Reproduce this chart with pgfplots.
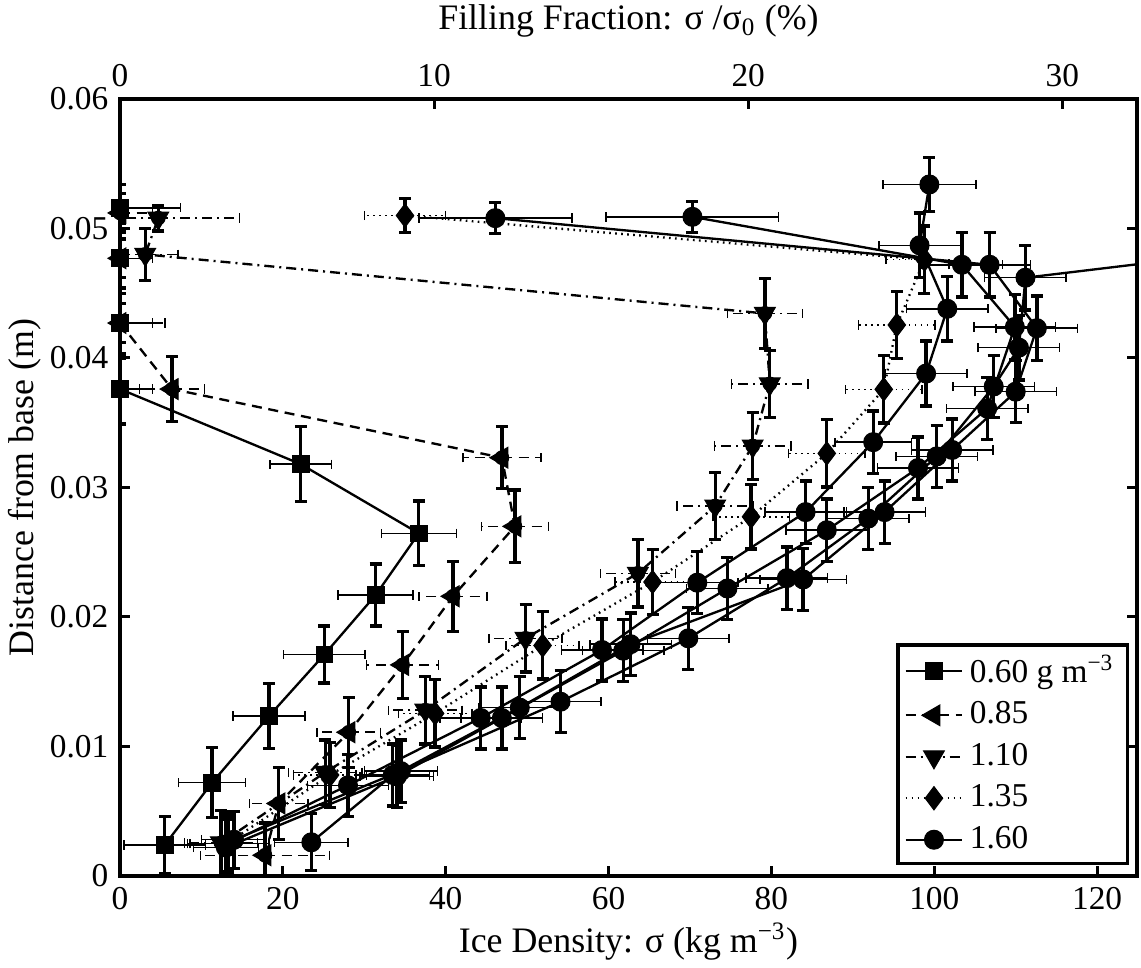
\documentclass[border=0pt]{standalone}
\usepackage{fontspec}
\setmainfont{Liberation Serif}
\usepackage{pgfplots}
\usepackage{pgfplotstable}
\pgfplotsset{compat=1.18}
\usetikzlibrary{calc}

\pgfplotstableread{
x y ex ey
5.5 0.0024 5.0 0.0022
11.3 0.0072 4.1 0.0027
18.3 0.01235 4.4 0.0025
25.1 0.0171 5.0 0.0022
31.4 0.0217 4.6 0.0024
36.7 0.02646 4.6 0.0025
22.2 0.0318 3.8 0.0029
0 0.0376 4.0 0.0027
0 0.0427 4.0 0.0027
0 0.0477 4.0 0.0027
0 0.0516 7.4 0.0018
}\tabSq

\pgfplotstableread{
x y ex ey
17.8 0.0016 7.9 0.0025
19.5 0.0056 3.6 0.0028
28.1 0.0111 3.9 0.0027
34.7 0.0163 4.4 0.0026
40.9 0.0216 4.2 0.0027
48.5 0.0270 4.1 0.0028
46.9 0.0323 4.8 0.0024
6.4 0.0376 4.0 0.0025
0 0.0427 5.5 0.0015
0 0.0477 4.0 0.0015
0 0.0512 4.0 0.0015
}\tabLt

\pgfplotstableread{
x y ex ey
12.4 0.00255 4.5 0.0025
25.2 0.0080 4.5 0.0025
37.5 0.0128 4.5 0.0026
49.8 0.01835 4.5 0.0026
63.6 0.02337 4.6 0.0026
73.1 0.02857 4.7 0.0026
77.7 0.0332 4.7 0.0026
79.8 0.0380 4.7 0.0026
79.2 0.04344 4.6 0.0027
3.1 0.0480 4.0 0.0020
4.7 0.0508 10.0 0.0010
}\tabDt

\pgfplotstableread{
x y ex ey
13.1 0.0025 4.5 0.0025
25.8 0.0078 4.5 0.0025
38.7 0.01255 4.5 0.0026
51.9 0.0178 4.5 0.0026
65.4 0.0227 4.6 0.0025
77.5 0.02774 4.7 0.0025
86.8 0.03263 4.7 0.0026
93.8 0.03758 4.7 0.0026
95.4 0.04255 4.7 0.0026
98.8 0.0476 4.7 0.0026
35.0 0.0510 5.0 0.0013
}\tabDi

\pgfplotstableread{
x y ex ey
13.3 0.0025 5.0 0.0022
28.0 0.0070 5.0 0.0024
44.3 0.0122 5.0 0.0024
59.2 0.01745 5.0 0.0024
70.9 0.02265 5.0 0.0024
84.2 0.0281 5.0 0.0024
92.5 0.0335 4.7 0.0024
99.0 0.0388 5.0 0.0025
101.6 0.0438 5.0 0.0025
98.2 0.0487 5.0 0.0025
99.4 0.0534 5.7 0.0021
}\tabCa

\pgfplotstableread{
x y ex ey
13.0 0.0022 4.0 0.0022
34.0 0.0077 4.5 0.0024
46.9 0.0122 5.0 0.0024
61.8 0.0174 5.0 0.0024
74.6 0.0222 5.0 0.0024
86.8 0.0267 5.0 0.0024
98.0 0.0315 5.0 0.0024
106.5 0.0361 5.0 0.0024
109.9 0.0424 5.0 0.0025
103.4 0.0472 5.0 0.0025
70.3 0.0509 10.6 0.0012
}\tabCb

\pgfplotstableread{
x y ex ey
14.0 0.0028 4.0 0.0022
34.5 0.0081 4.5 0.0024
49.1 0.0130 5.0 0.0024
62.7 0.0179 5.0 0.0024
83.9 0.0229 5.3 0.0024
93.9 0.0281 5.0 0.0024
102.2 0.0329 5.0 0.0024
110.0 0.0374 5.0 0.0024
112.6 0.0423 5.0 0.0025
106.8 0.0472 5.0 0.0025
46.1 0.0508 9.4 0.0012
}\tabCc

\pgfplotstableread{
x y ex ey
23.5 0.0026 4.5 0.0022
33.5 0.0078 4.5 0.0024
54.1 0.01346 5.0 0.0024
69.8 0.01835 5.0 0.0024
81.9 0.0230 5.0 0.0024
91.9 0.0276 5.0 0.0024
100.3 0.0324 5.0 0.0024
107.3 0.0378 5.0 0.0024
110.4 0.0408 5.0 0.0025
111.2 0.0462 5.0 0.0025
135.0 0.0480 5.0 0.0025
}\tabCd

\pgfplotsset{
  /pgf/number format/assume math mode=true,
  xerrbars/.style={forget plot, black, only marks, mark=none,
    error bars/.cd, x dir=both, x explicit,
    error bar style={line width=0.45pt, #1},
    error mark options={rotate=90, mark size=1.4pt, line width=0.45pt, solid}},
  yerrbars/.style={error bars/.cd, y dir=both, y explicit,
    error bar style={line width=1pt, solid},
    error mark options={rotate=90, mark size=1.8pt, line width=1pt, solid}},
  dashA/.style={dash pattern=on 3pt off 2pt},
  dashB/.style={dash pattern=on 3pt off 1.5pt on 0.6pt off 1.5pt},
  dashC/.style={dash pattern=on 0.5pt off 1.3pt},
}

\begin{document}
\begin{tikzpicture}
\begin{axis}[name=main,
  scale only axis, width=305.1pt, height=233.1pt,
  xmin=0, xmax=124.9, ymin=0, ymax=0.06,
  xtick={0,20,40,60,80,100,120},
  ytick={0,0.01,0.02,0.03,0.04,0.05,0.06},
  xtick pos=bottom,
  tick align=inside, major tick length=3pt,
  tick style={line width=0.9pt, black},
  axis line style={line width=1pt},
  scaled y ticks=false,
  yticklabel style={/pgf/number format/.cd, fixed, precision=2},
  clip mode=individual,
  font=\fontsize{10}{12}\selectfont,
  xlabel={Ice Density: σ (kg m\textsuperscript{−3})},
  xlabel style={at={(axis description cs:0.5,-0.0991)}, anchor=base, font=\fontsize{10.75}{13}\selectfont},
  ylabel={Distance from base (m)},
  ylabel style={at={(axis description cs:-0.0934,0.5)}, anchor=center, font=\fontsize{10.75}{13}\selectfont},
  legend style={at={(1,0)}, anchor=south east, xshift=-2.4pt, yshift=3.3pt,
    draw=black, line width=1pt, font=\fontsize{10}{12}\selectfont,
    inner xsep=2pt, inner ysep=1pt, row sep=0.3pt},
  legend cell align=left,
  legend image post style={line width=0.5pt},
]
% thin x error bars
\addplot[xerrbars={solid}] table[x=x,y=y,x error=ex] {\tabSq};
\addplot[xerrbars={dashA}] table[x=x,y=y,x error=ex] {\tabLt};
\addplot[xerrbars={dashB}] table[x=x,y=y,x error=ex] {\tabDt};
\addplot[xerrbars={dashC}] table[x=x,y=y,x error=ex] {\tabDi};
\addplot[xerrbars={solid}] table[x=x,y=y,x error=ex] {\tabCa};
\addplot[xerrbars={solid}] table[x=x,y=y,x error=ex] {\tabCb};
\addplot[xerrbars={solid}] table[x=x,y=y,x error=ex] {\tabCc};
\addplot[xerrbars={solid}] table[x=x,y=y,x error=ex] {\tabCd};
% lines, markers, y error bars
\addplot[black, line width=0.7pt, solid, mark=square*,
  mark options={solid, fill=black, mark size=2.5pt, line width=0.3pt}, yerrbars]
  table[x=x,y=y,y error=ey] {\tabSq};
\addlegendentry{0.60 g m\textsuperscript{−3}}
\addplot[black, line width=0.7pt, dashA, mark=triangle*,
  mark options={solid, fill=black, mark size=3.6pt, rotate=90, line width=0.3pt}, yerrbars]
  table[x=x,y=y,y error=ey] {\tabLt};
\addlegendentry{0.85}
\addplot[black, line width=0.7pt, dashB, mark=triangle*,
  mark options={solid, fill=black, mark size=3.6pt, rotate=180, line width=0.3pt}, yerrbars]
  table[x=x,y=y,y error=ey] {\tabDt};
\addlegendentry{1.10}
\addplot[black, line width=0.7pt, dashC, mark=diamond*,
  mark options={solid, fill=black, mark size=3.5pt, line width=0.3pt}, yerrbars]
  table[x=x,y=y,y error=ey] {\tabDi};
\addlegendentry{1.35}
\addplot[black, line width=0.7pt, solid, mark=*,
  mark options={solid, fill=black, mark size=2.85pt, line width=0.3pt}, yerrbars]
  table[x=x,y=y,y error=ey] {\tabCa};
\addlegendentry{1.60}
\addplot[forget plot, black, line width=0.7pt, solid, mark=*,
  mark options={solid, fill=black, mark size=2.85pt, line width=0.3pt}, yerrbars]
  table[x=x,y=y,y error=ey] {\tabCb};
\addplot[forget plot, black, line width=0.7pt, solid, mark=*,
  mark options={solid, fill=black, mark size=2.85pt, line width=0.3pt}, yerrbars]
  table[x=x,y=y,y error=ey] {\tabCc};
\addplot[forget plot, black, line width=0.7pt, solid, mark=*,
  mark options={solid, fill=black, mark size=2.85pt, line width=0.3pt}, yerrbars]
  table[x=x,y=y,y error=ey] {\tabCd};
\end{axis}

\begin{axis}[
  scale only axis, width=305.1pt, height=233.1pt,
  at={(main.south west)}, anchor=south west,
  xmin=0, xmax=32.38, ymin=0, ymax=1,
  axis x line*=top, axis y line=none,
  x axis line style={-, line width=1pt},
  xtick={0,10,20,30},
  tick align=inside, major tick length=3pt,
  tick style={line width=0.9pt, black},
  font=\fontsize{10}{12}\selectfont,
  xlabel={Filling Fraction: σ /σ\textsubscript{0} (\%)},
  xlabel style={at={(axis description cs:0.5,1.0888)}, anchor=base, font=\fontsize{10.75}{13}\selectfont},
]
\addplot[draw=none, forget plot] coordinates {(0,0) (1,1)};
\end{axis}

\pgfresetboundingbox
\path ($(main.south west)+(-36pt,-27.6pt)$) rectangle ($(main.north east)+(1.2pt,29.7pt)$);
\end{tikzpicture}
\end{document}
